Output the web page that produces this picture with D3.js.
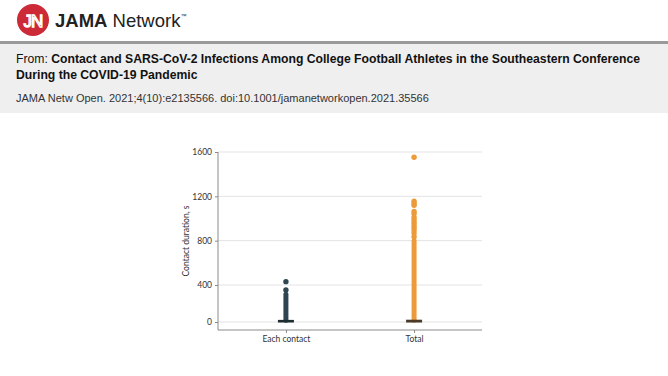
<!DOCTYPE html>
<html>
<head>
<meta charset="utf-8">
<script src="https://cdn.jsdelivr.net/npm/d3@7"></script>
<style>
  body { margin: 0; background: #fff; }
  svg { display: block; }
</style>
</head>
<body>
<svg id="chart"></svg>
<script>
const width = 668;
const height = 376;

// data
const categories = ["Each contact", "Total"];
const yTicks = [0, 400, 800, 1200, 1600];
// dense run of overlapping points: [low, high] in seconds
const denseRanges = [[20, 300], [20, 800]];
// isolated outlier points, seconds
const outliers = [
  [346, 430],
  [836, 870, 897, 920, 942, 965, 987, 1010, 1042, 1063, 1120, 1135, 1156, 1552]
];
// box (interquartile) extent, seconds
const boxes = [[0, 12], [0, 14]];
const colors = ["#2f4550", "#ec9a3a"];

const svg = d3.select("#chart").attr("width", width).attr("height", height);

// header
svg.append("circle").attr("cx", 33).attr("cy", 20).attr("r", 16).attr("fill", "#cc2a36");
svg.append("text").attr("x", 33).attr("y", 26.5).attr("text-anchor", "middle")
  .attr("font-family", "Liberation Sans, Arial, sans-serif").attr("font-size", 17)
  .attr("fill", "none").attr("stroke", "#fff").attr("stroke-width", 1.3)
  .attr("letter-spacing", -1).text("JN");
const logo = svg.append("text").attr("x", 55).attr("y", 27)
  .attr("font-family", "Liberation Sans, Arial, sans-serif").attr("font-size", 18.5).attr("fill", "#222");
logo.append("tspan").attr("font-weight", "bold").text("JAMA");
logo.append("tspan").text(" Network");
logo.append("tspan").attr("font-size", 6).attr("dy", -9).text("™");

svg.append("rect").attr("x", 0).attr("y", 41).attr("width", width).attr("height", 3).attr("fill", "#9a9a9a");
svg.append("rect").attr("x", 0).attr("y", 44).attr("width", width).attr("height", 69).attr("fill", "#efefef");

const title = svg.append("g").attr("font-family", "Liberation Sans, Arial, sans-serif").attr("fill", "#111");
const t1 = title.append("text").attr("x", 16).attr("y", 63).attr("font-size", 12.2);
t1.append("tspan").text("From: ");
t1.append("tspan").attr("font-weight", "bold")
  .text("Contact and SARS-CoV-2 Infections Among College Football Athletes in the Southeastern Conference");
title.append("text").attr("x", 16).attr("y", 79).attr("font-size", 12.2).attr("font-weight", "bold")
  .text("During the COVID-19 Pandemic");
title.append("text").attr("x", 16).attr("y", 102).attr("font-size", 11).attr("fill", "#333")
  .text("JAMA Netw Open. 2021;4(10):e2135566. doi:10.1001/jamanetworkopen.2021.35566");

// plot
const plotLeft = 218, plotRight = 482, axisY = 330;

const y = d3.scaleLinear()
  .domain([0, 400, 1600])
  .range([322, 285, 152]);

const x = d3.scalePoint()
  .domain(categories)
  .range([plotLeft, plotRight])
  .padding(0.53);

const font = "Lato, 'Open Sans', sans-serif";

// gridlines
svg.append("g").selectAll("line").data(yTicks).join("line")
  .attr("x1", plotLeft).attr("x2", plotRight)
  .attr("y1", d => y(d)).attr("y2", d => y(d))
  .attr("stroke", "#e3e3e3").attr("stroke-width", 1);

// y axis
const yAxis = d3.axisLeft(y).tickValues(yTicks).tickFormat(d3.format("d")).tickSize(3).tickPadding(3);
const yg = svg.append("g").attr("transform", `translate(${plotLeft},0)`).call(yAxis);
yg.select(".domain").attr("d", `M0,${152}V${axisY}`).attr("stroke", "#8a8a8a");
yg.selectAll(".tick line").attr("stroke", "#8a8a8a");
yg.selectAll(".tick text").attr("font-family", font).attr("font-size", 8.5).attr("fill", "#333");

// x axis
const xAxis = d3.axisBottom(x).tickSize(3).tickPadding(3);
const xg = svg.append("g").attr("transform", `translate(0,${axisY})`).call(xAxis);
xg.select(".domain").attr("d", `M${plotLeft},0H${plotRight}`).attr("stroke", "#8a8a8a");
xg.selectAll(".tick line").attr("stroke", "#8a8a8a");
xg.selectAll(".tick text").attr("font-family", font).attr("font-size", 8.5).attr("fill", "#333");

// y title
svg.append("text")
  .attr("transform", `translate(189,${(152 + axisY) / 2}) rotate(-90)`)
  .attr("text-anchor", "middle")
  .attr("font-family", font).attr("font-size", 8.5).attr("fill", "#333")
  .text("Contact duration, s");

// dense runs
svg.append("g").selectAll("line").data(denseRanges).join("line")
  .attr("x1", (d, i) => x(categories[i])).attr("x2", (d, i) => x(categories[i]))
  .attr("y1", d => y(d[0])).attr("y2", d => y(d[1]))
  .attr("stroke", (d, i) => colors[i]).attr("stroke-width", 5).attr("stroke-linecap", "round");

// outliers
outliers.forEach((vals, i) => {
  svg.append("g").selectAll("circle").data(vals).join("circle")
    .attr("cx", x(categories[i])).attr("cy", d => y(d)).attr("r", 2.7)
    .attr("fill", colors[i]);
});

// boxes
svg.append("g").selectAll("rect").data(boxes).join("rect")
  .attr("x", (d, i) => x(categories[i]) - 8).attr("width", 16)
  .attr("y", d => y(d[1]) - 1).attr("height", d => y(d[0]) - y(d[1]) + 1.5)
  .attr("fill", (d, i) => i === 0 ? "#1f2d33" : "#4a3a2a");
</script>
</body>
</html>
